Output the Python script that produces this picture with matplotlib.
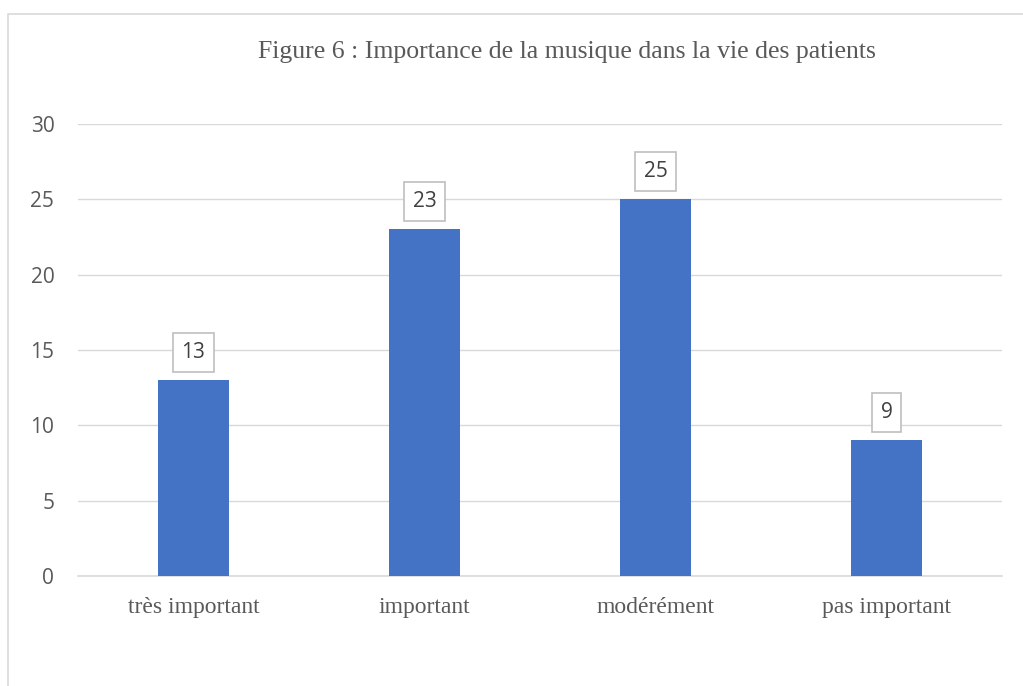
import matplotlib.pyplot as plt
from matplotlib.patches import Rectangle

# Data
categories = ['très important', 'important', 'modérément', 'pas important']
values = [13, 23, 25, 9]
y_ticks = [0, 5, 10, 15, 20, 25, 30]

fig = plt.figure(figsize=(10.23, 6.86), dpi=100)
ax = fig.add_axes([0.0762, 0.1603, 0.9033, 0.6589])

# Outer chart border (cropped at right and bottom)
fig.patches.append(Rectangle((8 / 1023, -0.1), 1.2, 1 - 14 / 686 + 0.1,
                             transform=fig.transFigure, fill=False,
                             edgecolor='#d9d9d9', linewidth=1.2))

x = range(len(categories))
bars = ax.bar(x, values, width=0.31, color='#4472C4', zorder=3)

# Data labels in boxes
for xi, v in zip(x, values):
    ax.annotate(str(v), (xi, v), xytext=(0, 20), textcoords='offset points',
                ha='center', va='center', fontsize=15, color='#404040',
                family='Open Sans',
                bbox=dict(boxstyle='square,pad=0.42', fc='white',
                          ec='#bfbfbf', lw=1.2), zorder=4)

ax.set_xlim(-0.5, len(categories) - 0.5)
ax.set_ylim(0, 30)
ax.set_yticks(y_ticks)
ax.set_yticklabels([str(t) for t in y_ticks], fontsize=15, color='#595959',
                   family='Open Sans')
ax.set_xticks(list(x))
ax.set_xticklabels(categories, fontsize=17, color='#595959',
                   family='Liberation Serif')
ax.tick_params(axis='both', length=0)
ax.tick_params(axis='y', pad=17)
ax.tick_params(axis='x', pad=15)

ax.grid(axis='y', color='#d9d9d9', linewidth=1, zorder=0)
for side in ['top', 'right', 'left']:
    ax.spines[side].set_visible(False)
ax.spines['bottom'].set_color('#d9d9d9')
ax.spines['bottom'].set_linewidth(1.2)

fig.text(567 / 1023, 1 - 52 / 686, 'Figure 6 : Importance de la musique dans la vie des patients',
         ha='center', va='center', fontsize=18.5, color='#595959',
         family='Liberation Serif')

fig.savefig('out.png', dpi=100)
